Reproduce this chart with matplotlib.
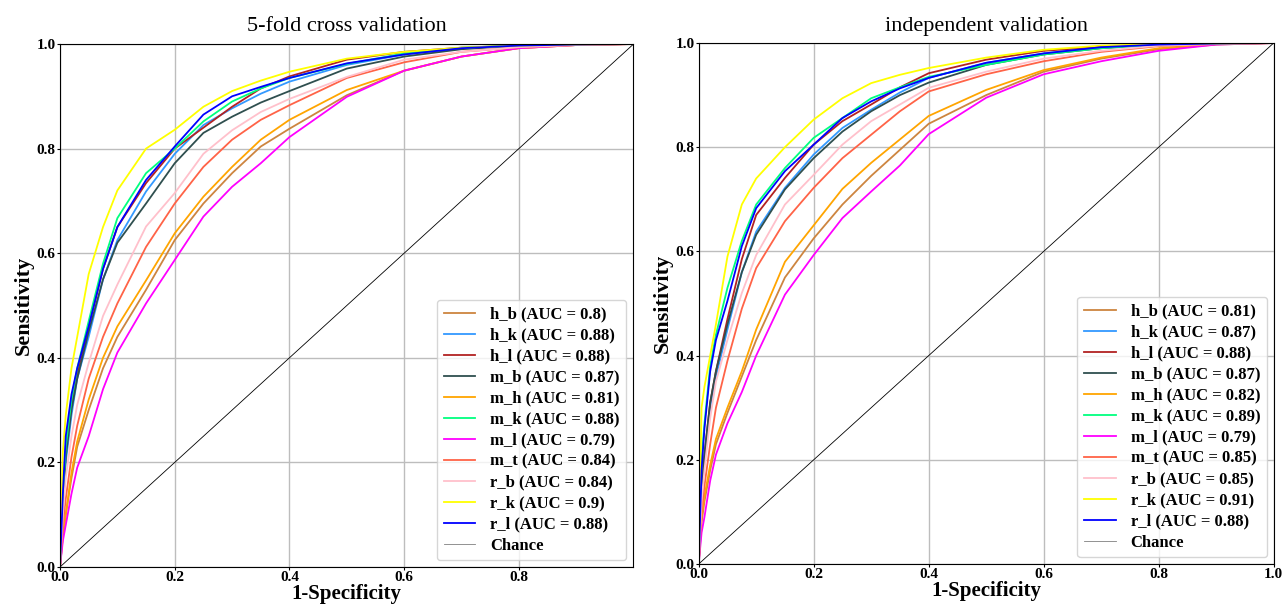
import matplotlib
matplotlib.use("Agg")
import matplotlib.pyplot as plt

plt.rcParams["font.family"] = ["Liberation Serif", "DejaVu Serif"]

# nombres de los modelos y colores
modelos = ["h_b", "h_k", "h_l", "m_b", "m_h", "m_k", "m_l", "m_t", "r_b", "r_k", "r_l"]
colores = ["peru", "#3399ff", "firebrick", "darkslategray", "orange", "springgreen",
           "magenta", "tomato", "pink", "yellow", "blue"]

# puntos de 1-especificidad donde se leyeron las curvas
fpr = [0, 0.005, 0.01, 0.02, 0.03, 0.05, 0.075, 0.1, 0.15, 0.2, 0.25, 0.3,
       0.35, 0.4, 0.5, 0.6, 0.7, 0.8, 0.9, 1.0]

# 5-fold cross validation
auc_cv = [0.8, 0.88, 0.88, 0.87, 0.81, 0.88, 0.79, 0.84, 0.84, 0.9, 0.88]
tpr_cv = {
    "h_b": [0, 0.06, 0.10, 0.17, 0.23, 0.30, 0.38, 0.44, 0.53, 0.625, 0.695, 0.753, 0.804, 0.838, 0.902, 0.949, 0.976, 0.992, 0.998, 1.0],
    "h_k": [0, 0.11, 0.20, 0.29, 0.36, 0.44, 0.55, 0.625, 0.718, 0.79, 0.845, 0.877, 0.905, 0.928, 0.96, 0.98, 0.992, 0.997, 0.999, 1.0],
    "h_l": [0, 0.12, 0.22, 0.31, 0.37, 0.46, 0.57, 0.65, 0.734, 0.80, 0.84, 0.88, 0.915, 0.938, 0.97, 0.985, 0.993, 0.997, 0.999, 1.0],
    "m_b": [0, 0.12, 0.21, 0.30, 0.36, 0.45, 0.55, 0.62, 0.695, 0.772, 0.83, 0.861, 0.888, 0.91, 0.953, 0.976, 0.99, 0.997, 0.999, 1.0],
    "m_h": [0, 0.06, 0.10, 0.18, 0.24, 0.32, 0.40, 0.46, 0.548, 0.638, 0.708, 0.765, 0.817, 0.855, 0.912, 0.949, 0.976, 0.992, 0.998, 1.0],
    "m_k": [0, 0.13, 0.23, 0.32, 0.38, 0.47, 0.58, 0.667, 0.753, 0.80, 0.852, 0.89, 0.915, 0.935, 0.962, 0.982, 0.993, 0.997, 0.999, 1.0],
    "m_l": [0, 0.05, 0.08, 0.14, 0.19, 0.25, 0.34, 0.41, 0.504, 0.587, 0.67, 0.727, 0.772, 0.822, 0.899, 0.949, 0.976, 0.992, 0.998, 1.0],
    "m_t": [0, 0.08, 0.13, 0.21, 0.27, 0.36, 0.44, 0.504, 0.612, 0.695, 0.765, 0.817, 0.855, 0.883, 0.935, 0.965, 0.985, 0.994, 0.998, 1.0],
    "r_b": [0, 0.10, 0.17, 0.25, 0.31, 0.39, 0.48, 0.54, 0.651, 0.715, 0.79, 0.835, 0.87, 0.895, 0.937, 0.97, 0.985, 0.994, 0.998, 1.0],
    "r_k": [0, 0.22, 0.29, 0.38, 0.44, 0.56, 0.65, 0.72, 0.80, 0.836, 0.88, 0.91, 0.93, 0.947, 0.972, 0.985, 0.993, 0.997, 0.999, 1.0],
    "r_l": [0, 0.14, 0.25, 0.33, 0.38, 0.46, 0.57, 0.65, 0.74, 0.804, 0.865, 0.90, 0.918, 0.935, 0.963, 0.98, 0.992, 0.997, 0.999, 1.0],
}

# independent validation
auc_iv = [0.81, 0.87, 0.88, 0.87, 0.82, 0.89, 0.79, 0.85, 0.85, 0.91, 0.88]
tpr_iv = {
    "h_b": [0, 0.08, 0.12, 0.18, 0.23, 0.29, 0.36, 0.43, 0.55, 0.625, 0.69, 0.745, 0.795, 0.845, 0.90, 0.945, 0.97, 0.988, 0.997, 1.0],
    "h_k": [0, 0.13, 0.20, 0.30, 0.36, 0.45, 0.56, 0.638, 0.722, 0.786, 0.837, 0.872, 0.905, 0.933, 0.962, 0.98, 0.992, 0.997, 0.999, 1.0],
    "h_l": [0, 0.14, 0.21, 0.31, 0.37, 0.47, 0.585, 0.67, 0.741, 0.805, 0.85, 0.882, 0.915, 0.942, 0.968, 0.985, 0.993, 0.997, 0.999, 1.0],
    "m_b": [0, 0.14, 0.21, 0.31, 0.37, 0.46, 0.56, 0.632, 0.719, 0.779, 0.83, 0.869, 0.90, 0.924, 0.958, 0.978, 0.99, 0.997, 0.999, 1.0],
    "m_h": [0, 0.09, 0.13, 0.19, 0.24, 0.30, 0.37, 0.45, 0.58, 0.65, 0.72, 0.77, 0.815, 0.86, 0.91, 0.948, 0.972, 0.99, 0.998, 1.0],
    "m_k": [0, 0.20, 0.27, 0.38, 0.44, 0.53, 0.62, 0.69, 0.76, 0.818, 0.856, 0.894, 0.915, 0.935, 0.958, 0.978, 0.99, 0.997, 0.999, 1.0],
    "m_l": [0, 0.06, 0.09, 0.16, 0.21, 0.27, 0.33, 0.40, 0.517, 0.593, 0.664, 0.715, 0.765, 0.825, 0.895, 0.94, 0.965, 0.985, 0.997, 1.0],
    "m_t": [0, 0.10, 0.15, 0.23, 0.30, 0.39, 0.49, 0.568, 0.658, 0.722, 0.779, 0.824, 0.869, 0.907, 0.94, 0.965, 0.983, 0.994, 0.998, 1.0],
    "r_b": [0, 0.12, 0.18, 0.28, 0.35, 0.43, 0.52, 0.593, 0.69, 0.747, 0.805, 0.85, 0.882, 0.914, 0.945, 0.97, 0.985, 0.995, 0.998, 1.0],
    "r_k": [0, 0.30, 0.34, 0.40, 0.46, 0.59, 0.69, 0.74, 0.80, 0.853, 0.894, 0.923, 0.939, 0.952, 0.972, 0.987, 0.995, 0.998, 0.999, 1.0],
    "r_l": [0, 0.18, 0.26, 0.37, 0.43, 0.505, 0.61, 0.683, 0.754, 0.805, 0.856, 0.888, 0.913, 0.933, 0.962, 0.98, 0.992, 0.997, 0.999, 1.0],
}

fig = plt.figure(figsize=(12.82, 6.11), dpi=100)
ax1 = fig.add_axes([0.0468, 0.072, 0.447, 0.856])
ax2 = fig.add_axes([0.545, 0.0769, 0.4485, 0.8527])


def dibujar(ax, tpr, aucs, titulo, xmax):
    for nombre, color, auc in zip(modelos, colores, aucs):
        ax.plot(fpr, tpr[nombre], color=color, lw=1.3, label=f"{nombre} (AUC = {auc})")
    ax.plot([0, 1], [0, 1], color="black", lw=0.6, label="Chance")
    ax.set_xlim(0, xmax)
    ax.set_ylim(0, 1.0)
    ax.set_title(titulo, fontsize=16, pad=9)
    ax.set_xlabel("1-Specificity", fontsize=15, fontweight="bold", labelpad=0)
    ax.set_ylabel("Sensitivity", fontsize=16, fontweight="bold", labelpad=2)
    ax.grid(True, color="#bdbdbd", lw=1.0)
    ax.tick_params(labelsize=11, length=2, pad=1)
    for lab in ax.get_xticklabels() + ax.get_yticklabels():
        lab.set_fontweight("bold")
    leg = ax.legend(loc="lower right", prop={"weight": "bold", "size": 12},
                    handlelength=1.9, handletextpad=0.9, labelspacing=0.3,
                    borderpad=0.4, borderaxespad=0.4)
    leg.get_lines()[-1].set_color("gray")


dibujar(ax1, tpr_cv, auc_cv, "5-fold cross validation", 0.999)
dibujar(ax2, tpr_iv, auc_iv, "independent validation", 1.0)

fig.savefig("out.png", dpi=100)
